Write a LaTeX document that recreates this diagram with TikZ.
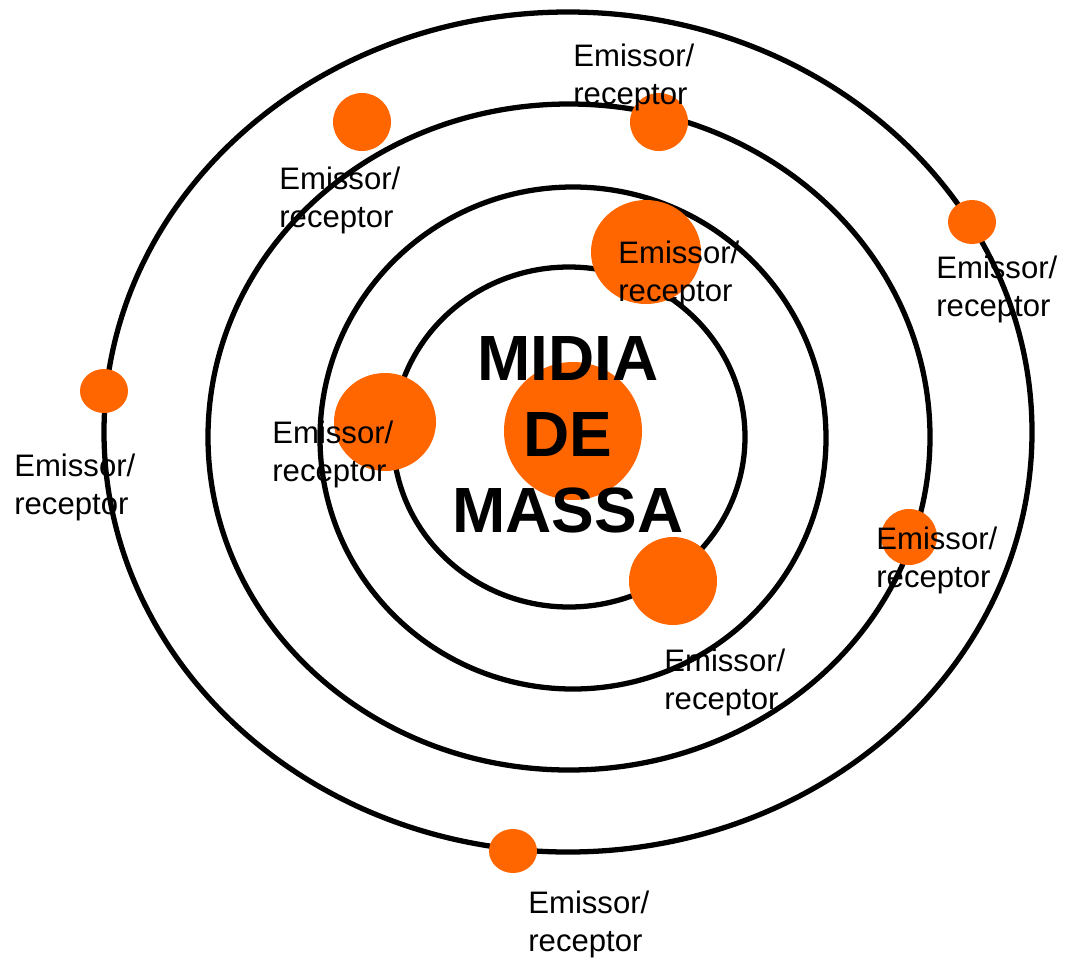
\documentclass[tikz,border=0pt]{standalone}
\usepackage{fontspec}
\setmainfont{Liberation Sans}
\usepackage{xcolor}
\usepackage{tikz}
\usetikzlibrary{positioning}
\definecolor{midiaorange}{HTML}{FF6600}

\tikzset{
  orbit/.style={black, line width=3pt},
  er/.style={anchor=north west, inner sep=0pt, align=left, font=\fontsize{17.7}{21.6}\selectfont},
  midia/.style={anchor=north, inner sep=0pt, align=center, font=\fontsize{36.4}{43.2}\selectfont\bfseries}
}

\begin{document}
\begin{tikzpicture}[x=0.02cm, y=-0.02cm]
\useasboundingbox (0,0) rectangle (1065,961);
% orbits
\draw[orbit] (568,432) ellipse (464 and 420);
\draw[orbit] (569,437) ellipse (361 and 333);
\draw[orbit] (573,438) ellipse (253 and 251);
\draw[orbit] (569,437) ellipse (176 and 170);
% emissores / receptores
\fill[midiaorange] (573,431) circle (69);
\fill[midiaorange] (362,122) circle (29);
\fill[midiaorange] (659,122) circle (29);
\fill[midiaorange] (646,252) ellipse (55 and 52);
\fill[midiaorange] (972,222) ellipse (24 and 22);
\fill[midiaorange] (104,391) ellipse (24 and 22);
\fill[midiaorange] (385,422) ellipse (51 and 49);
\fill[midiaorange] (673,581) circle (44);
\fill[midiaorange] (909,537) circle (28);
\fill[midiaorange] (513,851) ellipse (24 and 22);
% texts
\node[midia] (centro) at (568,336) {MIDIA\\DE\\MASSA};
\node[er] (er1) at (573,44) {Emissor/\\receptor};
\node[er] (er2) at (279,167) {Emissor/\\receptor};
\node[er] (er3) at (618,241) {Emissor/\\receptor};
\node[er] (er4) at (936,256) {Emissor/\\receptor};
\node[er] (er5) at (14,454) {Emissor/\\receptor};
\node[er] (er6) at (272,421) {Emissor/\\receptor};
\node[er] (er7) at (876,527) {Emissor/\\receptor};
\node[er] (er8) at (664,649) {Emissor/\\receptor};
\node[er] (er9) at (528,891) {Emissor/\\receptor};
\end{tikzpicture}
\end{document}
